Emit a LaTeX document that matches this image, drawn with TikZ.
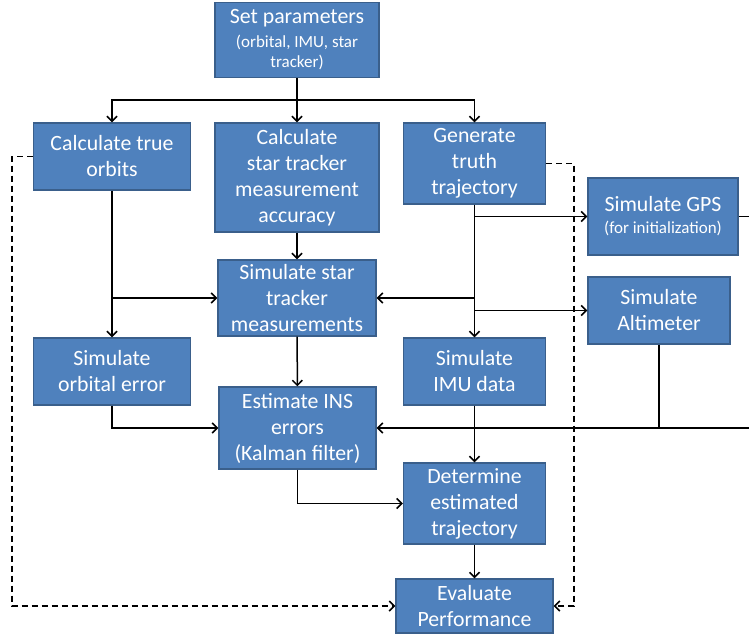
\documentclass[tikz,border=0pt]{standalone}
\usepackage{fontspec}
\setmainfont{Carlito}
\usetikzlibrary{arrows.meta, positioning}

\definecolor{boxfill}{RGB}{79,129,189}
\definecolor{boxline}{RGB}{58,95,139}

\tikzset{
	box/.style={draw=boxline, fill=boxfill, line width=1.4pt, text=white, align=center, inner sep=1pt,
		font=\fontsize{21.8}{26}\selectfont},
	link/.style={line width=1.5pt, -{Straight Barb[length=5pt, width=10pt]}},
	wire/.style={line width=1.5pt},
	dashlink/.style={line width=1.5pt, dash pattern=on 6pt off 4pt, -{Straight Barb[length=5pt, width=10pt]}}
}

\begin{document}
\begin{tikzpicture}[x=1pt, y=-1pt]
		\useasboundingbox (0,0) rectangle (749,636);
		
		% boxes
		\node[box, minimum width=164pt, minimum height=75pt] (setp) at (297,40) {Set parameters\\[-2pt]{\fontsize{17}{20}\selectfont (orbital, IMU, star}\\[-6pt]{\fontsize{17}{20}\selectfont tracker)}};
		\node[box, minimum width=157pt, minimum height=67pt] (orbits) at (112,156.5) {Calculate true\\orbits};
		\node[box, minimum width=164pt, minimum height=109pt] (acc) at (297,177.5) {Calculate\\star tracker\\measurement\\accuracy};
		\node[box, minimum width=142pt, minimum height=81pt] (truth) at (474.5,163.5) {Generate\\truth\\trajectory};
		\node[box, minimum width=150pt, minimum height=77pt] (gps) at (663,216.5) {Simulate GPS\\[-4pt]{\fontsize{17}{20}\selectfont (for initialization)}};
		\node[box, minimum width=158pt, minimum height=76pt] (meas) at (297,298) {Simulate star\\tracker\\measurements};
		\node[box, minimum width=142pt, minimum height=67pt] (alt) at (659,310.5) {Simulate\\Altimeter};
		\node[box, minimum width=157pt, minimum height=67pt] (orberr) at (112,371.5) {Simulate\\orbital error};
		\node[box, minimum width=142pt, minimum height=67pt] (imu) at (474.5,371.5) {Simulate\\IMU data};
		\node[box, minimum width=157pt, minimum height=82pt] (ins) at (297.5,428) {Estimate INS\\errors\\(Kalman filter)};
		\node[box, minimum width=142pt, minimum height=81pt] (det) at (474.5,503.5) {Determine\\estimated\\trajectory};
		\node[box, minimum width=157pt, minimum height=54pt] (eval) at (474.5,606) {Evaluate\\Performance};
		
		% top split
		\coordinate (split) at (297,100);
		\draw[link] (setp) -- (acc);
		\draw[link] (split) -| (orbits.north);
		\draw[link] (split) -| (truth.north);
		
		% left trunk
		\draw[link] (orbits) -- (orberr);
		\draw[link] (orbits.south |- meas.west) -- (meas.west);
		\draw[link] (orberr.south) |- (ins.west);
		
		% middle
		\draw[link] (acc) -- (meas);
		\draw[link] (meas) -- (ins);
		\draw[link] (ins.south) |- (det.west);
		
		% right trunk
		\draw[link] (truth) -- (imu);
		\draw[link] (truth.south |- gps.west) -- (gps.west);
		\draw[link] (truth.south |- meas.east) -- (meas.east);
		\draw[link] (truth.south |- alt.west) -- (alt.west);
		\draw[link] (imu) -- (det);
		\draw[link] (det) -- (eval);
		
		% sensors back to the filter
		\coordinate (edge) at (749,428);
		\draw[wire] (gps.east) -- (749,216.5);
		\draw[wire] (alt.south) -- (alt.south |- edge);
		\draw[link] (edge) -- (ins.east);
		
		% dashed paths to evaluation
		\draw[dashlink] (orbits.west) -- (12,156.5) |- (eval.west);
		\draw[dashlink] (truth.east) -- (574,163.5) |- (eval.east);
	\end{tikzpicture}
\end{document}
